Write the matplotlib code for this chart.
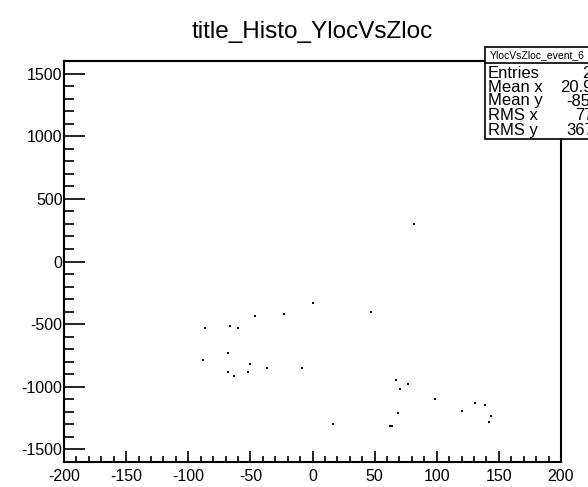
import numpy as np
import matplotlib
matplotlib.use('Agg')
import matplotlib.pyplot as plt
from matplotlib.patches import Rectangle
from matplotlib.lines import Line2D
from matplotlib.ticker import MultipleLocator

# hit positions (z local, y local)
zloc = [0.2, -46.5, -23.2, -86.8, -66.6, -60.0, -68.3, -88.4, -50.0, -36.6,
        -8.2, -68.3, -51.7, -63.4, 47.1, 82.0, 67.0, 77.1, 70.4, 98.9,
        130.5, 138.8, 120.3, 143.9, 68.8, 142.0, 62.0, 64.0, 16.8]
yloc = [-334, -435, -419, -533, -517, -533, -733, -784, -816, -850,
        -850, -882, -882, -916, -403, 297, -948, -980, -1015, -1097,
        -1132, -1145, -1196, -1231, -1212, -1278, -1313, -1313, -1294]

stat_names = ['Entries', 'Mean x', 'Mean y', 'RMS x', 'RMS y']
stat_vals = ['29', '20.97', '-854.3', '77.16', '367.3']

plt.rcParams['font.family'] = ['Liberation Sans', 'DejaVu Sans']
plt.rcParams['axes.unicode_minus'] = False

W, H = 588, 487
fig = plt.figure(figsize=(W / 100, H / 100), dpi=100)
fig.patch.set_facecolor('white')

def fx(px):
    return px / W

def fy(py):
    return 1 - py / H

ax = fig.add_axes([fx(64), fy(462), fx(561) - fx(64), fy(61) - fy(462)])
ax.plot(zloc, yloc, 's', color='black', markersize=1.8, markeredgewidth=0)
ax.set_xlim(-200, 200)
ax.set_ylim(-1600, 1600)

ax.xaxis.set_major_locator(MultipleLocator(50))
ax.xaxis.set_minor_locator(MultipleLocator(10))
ax.yaxis.set_major_locator(MultipleLocator(500))
ax.yaxis.set_minor_locator(MultipleLocator(100))
ax.tick_params(axis='both', which='both', direction='in', top=False, right=False,
               labelsize=11.5, width=1.2, color='black', labelcolor='black')
ax.tick_params(axis='y', which='major', length=15, pad=1)
ax.tick_params(axis='y', which='minor', length=7.5)
ax.tick_params(axis='x', which='major', length=8, pad=5)
ax.tick_params(axis='x', which='minor', length=4)
for s in ax.spines.values():
    s.set_linewidth(1.5)
    s.set_color('black')

fig.text(fx(312), fy(32), 'title_Histo_YlocVsZloc', ha='center', va='center',
         fontsize=17.5)

# stats box, partly off the right side of the canvas
box = Rectangle((fx(485), fy(139)), fx(620) - fx(485), fy(47) - fy(139),
                transform=fig.transFigure, facecolor='white', edgecolor='black',
                linewidth=1.2, zorder=5)
fig.patches.append(box)
fig.lines.append(Line2D([fx(485), fx(620)], [fy(63), fy(63)],
                        transform=fig.transFigure, color='black', linewidth=1.2,
                        zorder=6))
fig.text(fx(490), fy(55), 'YlocVsZloc_event_6', ha='left', va='center',
         fontsize=7.5, zorder=7)
rows_y = [73, 87, 101, 116, 130]
vals_x = [582, 560, 566, 575, 566]
for name, val, ry, vx in zip(stat_names, stat_vals, rows_y, vals_x):
    fig.text(fx(488), fy(ry), name, ha='left', va='center', fontsize=12, zorder=7)
    fig.text(fx(vx), fy(ry), val, ha='left', va='center', fontsize=12, zorder=7)

fig.savefig('out.png', dpi=100)
